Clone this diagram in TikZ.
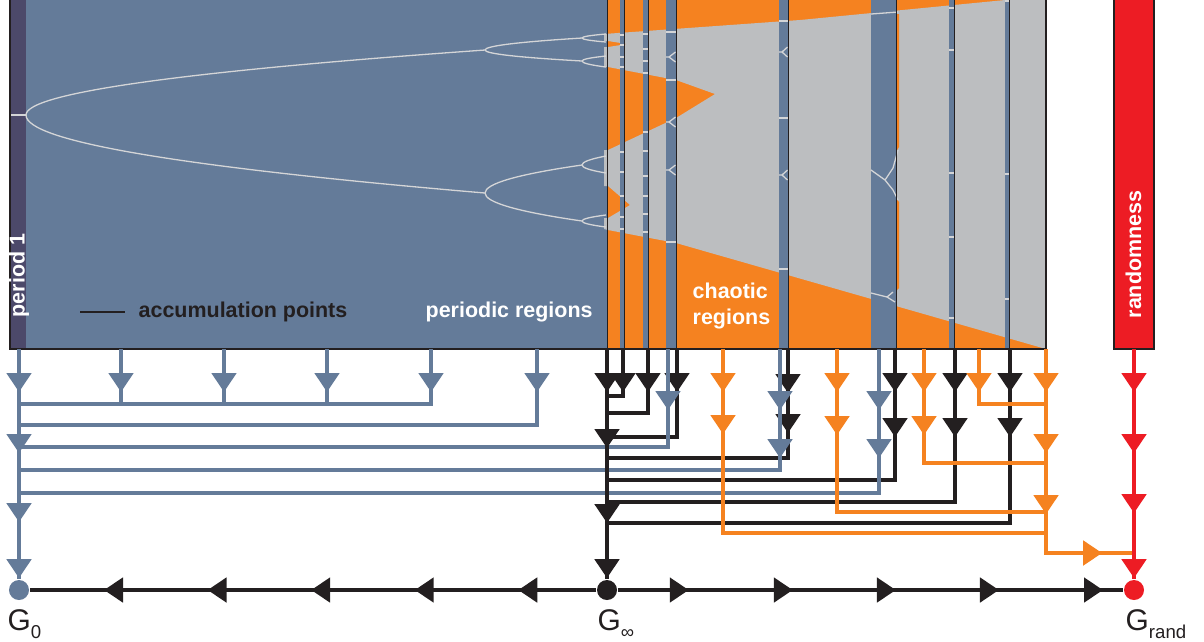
\documentclass[tikz,border=0pt]{standalone}
\usepackage{fontspec}
\setmainfont{Liberation Sans}
\usetikzlibrary{arrows.meta,decorations.markings}

\definecolor{perblue}{RGB}{100,123,153}
\definecolor{pernavy}{RGB}{76,73,106}
\definecolor{chaorange}{RGB}{245,130,32}
\definecolor{bandgrey}{RGB}{188,190,192}
\definecolor{randred}{RGB}{237,28,36}
\definecolor{inkblack}{RGB}{35,31,32}
\definecolor{bifgrey}{RGB}{212,213,215}

\tikzset{
  tri/.tip={Triangle[length=0.19cm,width=0.24cm]},
  tipat/.style={postaction={decorate,decoration={markings,mark=at position #1 with {\arrow{tri}}}}},
  flow/.style={line width=0.048cm},
  bifline/.style={bifgrey,line width=0.013cm},
  accline/.style={inkblack,line width=0.01cm},
  lbl/.style={font=\bfseries\fontsize{6.1pt}{7pt}\selectfont,inner sep=0pt},
  glabel/.style={font=\fontsize{8.5pt}{10pt}\selectfont,inner sep=0pt,text=inkblack},
  gnode/.style={circle,inner sep=0pt,minimum size=0.2cm},
}

% sideways parabola from a fork point to the next fork point
\newcommand{\bifbranch}[4]{\draw[bifline] (#1,#2) .. controls (#1,{#2+(#4-#2)/3}) and ({#1+(#3-#1)/3},{#4-(#4-#2)/3}) .. (#3,#4);}
\newcommand{\gsub}[1]{G\raisebox{-0.28em}{\fontsize{5.3pt}{6pt}\selectfont #1}}

\begin{document}
\begin{tikzpicture}[x=0.01cm,y=-0.01cm]
\useasboundingbox (0,0) rectangle (1204,641);
\clip (0,0) rectangle (1204,641);

% Drawing periodic and chaotic background
\fill[pernavy] (10,-5) rectangle (26,349);
\fill[perblue] (26,-5) rectangle (608,349);
\fill[chaorange] (608,-5) rectangle (1046,349);

% Drawing chaotic bands
\fill[bandgrey] (604,34) -- (800,20) -- (1046,-4) -- (1046,349) -- (676,243) -- (608,230) -- (604,229)
  -- (604,218) -- (608,218) -- (630,205) -- (608,186) -- (604,186) -- (604,150) -- (608,150)
  -- (676,118) -- (715,94) -- (676,80) -- (608,67) -- (604,67) -- (604,47) -- (608,47)
  -- (627,44) -- (608,41) -- (604,41) -- cycle;
\fill[chaorange] (896,14) -- (899,14) -- (899,147) -- (896,152) -- cycle;
\fill[chaorange] (896,198) -- (899,202) -- (899,288) -- (896,291) -- cycle;

% Drawing periodic windows
\foreach \xa/\xb in {620/623.5,643/647.5,666/675.5,779/787.5,871/895.5,949/953.5,1005/1008.5}
  \fill[perblue] (\xa,-5) rectangle (\xb,349);

% Drawing bifurcation tree
\draw[bifline] (10,115) -- (26,115);
\bifbranch{26}{115}{485}{50}
\bifbranch{26}{115}{485}{193}
\bifbranch{485}{50}{582}{38}
\bifbranch{485}{50}{582}{61}
\bifbranch{485}{193}{582}{165}
\bifbranch{485}{193}{582}{221}
\foreach \ya/\yb/\yc in {38/34/42,61/56/67,165/156/173,221/215/227}{
  \bifbranch{582}{\ya}{606}{\yb}
  \bifbranch{582}{\ya}{606}{\yc}
}

% Drawing marks inside the windows
\foreach \y in {35,45,57,67,152,172,196,217,229} \draw[bifline] (620,\y) -- (623.5,\y);
\foreach \y in {34,49,61,73,132,151,176,196,214,232} \draw[bifline] (643,\y) -- (647.5,\y);
\foreach \y in {32,80,242} \draw[bifline] (666,\y) -- (675.5,\y);
\foreach \y in {57,122,170} \draw[bifline] (666,\y) -- (669,\y) -- (675.5,{\y-5}) (669,\y) -- (675.5,{\y+5});
\foreach \y in {21,118,269} \draw[bifline] (779,\y) -- (787.5,\y);
\foreach \y in {52,175} \draw[bifline] (779,\y) -- (782,\y) -- (787.5,{\y-5}) (782,\y) -- (787.5,{\y+5});
\foreach \y in {8,50,173,237,318} \draw[bifline] (949,\y) -- (953.5,\y);
\foreach \y in {1,174,299} \draw[bifline] (1005,\y) -- (1008.5,\y);
\draw[bifline] (871,14) -- (898,12);
\draw[bifline] (871,170) -- (885,180) -- (893,168) -- (898,150) (885,180) -- (893,190) -- (898,200);
\draw[bifline] (871,293) -- (887,297) -- (893,292) (887,297) -- (895,302);

% Drawing accumulation points
\foreach \x in {607.5,624,648,676,788,896,954,1009}
  \draw[accline] (\x,-5) -- (\x,349);

% Drawing frames
\draw[inkblack,line width=0.016cm] (10,-5) -- (10,349) -- (1046,349) -- (1046,-5);
\draw[inkblack,line width=0.016cm,fill=randred] (1114,-5) rectangle (1154,349);

% Marking texts of the panel
\node[lbl,text=white,rotate=90,anchor=base west] (per1) at (24.5,318) {period 1};
\node[lbl,text=inkblack,anchor=base west] (accum) at (138,317) {accumulation points};
\draw[accline,line width=0.014cm] (80,312) -- (125,312);
\node[lbl,text=white,anchor=base west] (perreg) at (425,317) {periodic regions};
\node[lbl,text=white,anchor=base west] (chaos1) at (692,298) {chaotic};
\node[lbl,text=white,anchor=base west] (chaos2) at (692,324) {regions};
\node[lbl,text=white,rotate=90,anchor=base west] (rand) at (1141,319) {randomness};

% Marking points G
\node[gnode,fill=perblue] (G0) at (19,590) {};
\node[gnode,fill=inkblack] (Ginf) at (607,590) {};
\node[gnode,fill=randred] (Grand) at (1134,590) {};
\node[glabel,anchor=base west] (G0lab) at (7,630) {\gsub{0}};
\node[glabel,anchor=base west] (Ginflab) at (597,630) {\gsub{∞}};
\node[glabel,anchor=base west] (Grandlab) at (1125,630) {\gsub{rand}};

% Drawing flows into G_infinity
\draw[flow,inkblack,tipat=0.43cm] (623,349) |- (607,396);
\draw[flow,inkblack,tipat=0.43cm] (648,349) |- (607,413);
\draw[flow,inkblack,tipat=0.43cm] (677,349) |- (607,437);
\draw[flow,inkblack,tipat=0.44cm,tipat=0.84cm] (788,349) |- (607,458);
\foreach \x/\y in {895/480,955/502,1010/523}
  \draw[flow,inkblack,tipat=0.43cm,tipat=0.88cm] (\x,349) |- (607,\y);

% Drawing flows into G_0
\draw[flow,perblue,tipat=0.43cm,tipat=1.04cm,tipat=1.73cm,tipat=2.29cm] (19,349) -- (G0);
\foreach \x in {121,224,327,431}
  \draw[flow,perblue,tipat=0.43cm] (\x,349) |- (19,404);
\draw[flow,perblue,tipat=0.43cm] (537,349) |- (19,425);
\draw[flow,perblue,tipat=0.61cm] (668,349) |- (19,447);
\draw[flow,perblue,tipat=0.61cm,tipat=1.09cm] (780,349) |- (19,470);
\draw[flow,perblue,tipat=0.61cm,tipat=1.09cm] (879,349) |- (19,493);

\draw[flow,inkblack,tipat=0.43cm,tipat=0.99cm,tipat=1.74cm,tipat=2.29cm] (607,349) -- (Ginf);

% Drawing flows into G_rand
\draw[flow,chaorange,tipat=0.43cm] (979,349) |- (1046,404);
\draw[flow,chaorange,tipat=0.43cm,tipat=0.86cm] (924,349) |- (1046,463);
\draw[flow,chaorange,tipat=0.43cm,tipat=0.86cm] (837,349) |- (1046,512);
\draw[flow,chaorange,tipat=0.43cm,tipat=0.85cm] (723,349) |- (1046,533);
\draw[flow,chaorange,tipat=0.43cm,tipat=1.04cm,tipat=1.65cm,tipat=2.60cm] (1046,349) |- (1134,553);
\draw[flow,randred,tipat=0.43cm,tipat=1.04cm,tipat=1.64cm,tipat=2.29cm] (1134,349) -- (Grand);

% Drawing the bottom line
\draw[flow,inkblack,tipat=0.78cm,tipat=1.815cm,tipat=2.85cm,tipat=3.885cm,tipat=4.92cm] (Ginf) -- (G0);
\draw[flow,inkblack,tipat=0.71cm,tipat=1.75cm,tipat=2.78cm,tipat=3.81cm,tipat=4.85cm] (Ginf) -- (Grand);
\end{tikzpicture}
\end{document}
